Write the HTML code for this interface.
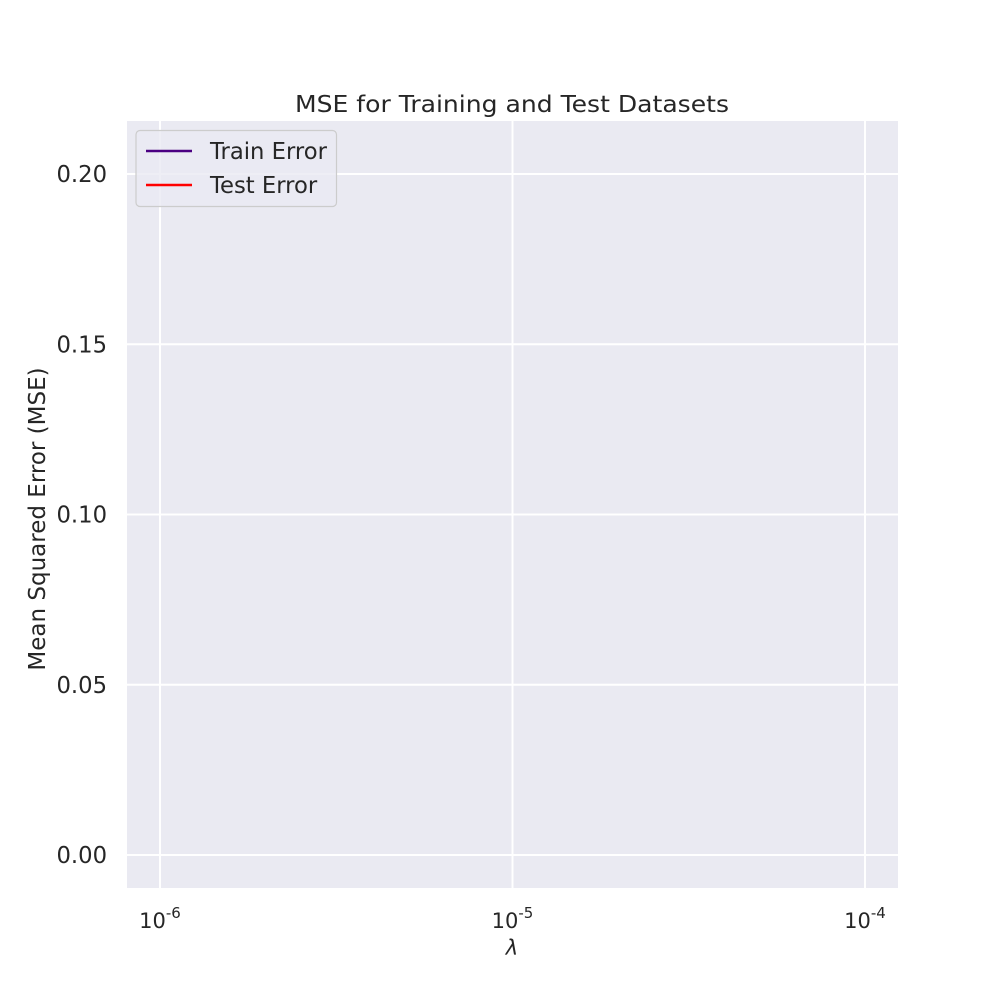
<!DOCTYPE html>
<html><head><meta charset="utf-8">
<style>
html,body{margin:0;padding:0;background:#fff;}
svg{display:block;font-family:"DejaVu Sans","Liberation Sans",sans-serif;}
</style></head>
<body>
<svg id="chart" width="1000" height="1000" viewBox="0 0 1000 1000">
  <rect x="0" y="0" width="1000" height="1000" fill="#ffffff"/>
  <rect x="127" y="121" width="771" height="767" fill="#eaeaf2"/>
  <g id="grid"></g>
  <g id="series"></g>
  <g id="xticks"></g>
  <g id="yticks"></g>
  <text x="512" y="112" text-anchor="middle" font-size="23" fill="#262626" textLength="434" lengthAdjust="spacingAndGlyphs">MSE for Training and Test Datasets</text>
  <text x="512" y="955" text-anchor="middle" font-size="21" font-style="italic" fill="#262626">λ</text>
  <text transform="translate(45,519) rotate(-90)" text-anchor="middle" font-size="23" fill="#262626">Mean Squared Error (MSE)</text>
  <g>
    <rect x="136" y="130.5" width="200.5" height="76" rx="4" fill="#eaeaf2" fill-opacity="0.8" stroke="#cccccc" stroke-width="1.2"/>
    <line x1="146" y1="151" x2="192" y2="151" stroke="#4b0082" stroke-width="2.6"/>
    <text x="210" y="159" font-size="22.7" fill="#262626">Train Error</text>
    <line x1="146" y1="185" x2="192" y2="185" stroke="#ff0000" stroke-width="2.6"/>
    <text x="210" y="193" font-size="22.7" fill="#262626">Test Error</text>
  </g>
</svg>
<script>
// Data (no visible series in reference plot)
const lambdas = [];
const trainErrors = [];
const testErrors = [];
const xTickExps = [-6, -5, -4];
const yTickValues = [0.00, 0.05, 0.10, 0.15, 0.20];
const yTickLabels = ["0.00", "0.05", "0.10", "0.15", "0.20"];

const NS = "http://www.w3.org/2000/svg";
function xScale(v){ return 160 + (Math.log10(v) + 6) * 352.5; }
function yScale(v){ return 855 - v * 3405; }
function mk(tag, attrs){ const e=document.createElementNS(NS,tag); for(const k in attrs) e.setAttribute(k,attrs[k]); return e; }

const grid=document.getElementById('grid');
const xt=document.getElementById('xticks');
const yt=document.getElementById('yticks');
xTickExps.forEach(function(p){
  const x=xScale(Math.pow(10,p));
  const l=mk('line',{x1:x,y1:121,x2:x,y2:888,stroke:'#ffffff','stroke-width':2});
  
  
  grid.appendChild(l);
  const t=mk('text',{x:x,y:928,'text-anchor':'middle','font-size':21,fill:'#262626'});
  
  
  t.textContent='10';
  const s=mk('tspan',{dy:-10,'font-size':15});
  s.textContent=String(p);
  t.appendChild(s);
  xt.appendChild(t);
});
yTickValues.forEach(function(v,i){
  const y=yScale(v);
  const l=mk('line',{x1:127,y1:y,x2:898,y2:y,stroke:'#ffffff','stroke-width':2});
  
  
  grid.appendChild(l);
  const t=mk('text',{x:107,y:y+8,'text-anchor':'end','font-size':22.7,fill:'#262626'});
  
  
  t.textContent=yTickLabels[i];
  yt.appendChild(t);
});
const sg=document.getElementById('series');
function drawSeries(vals,color,name){
  if(!lambdas.length||!vals.length) return;
  const pts=lambdas.map(function(l,i){return xScale(l)+','+yScale(vals[i]);}).join(' ');
  const pl=mk('polyline',{points:pts,fill:'none',stroke:color,'stroke-width':2.6});
  
  
  sg.appendChild(pl);
}
drawSeries(trainErrors,'#4b0082','train-error-line');
drawSeries(testErrors,'#ff0000','test-error-line');
</script>
</body></html>
